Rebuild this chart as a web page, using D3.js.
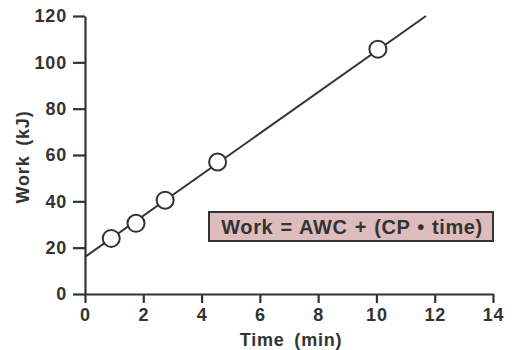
<!DOCTYPE html>
<html lang="en">
<head>
    <meta charset="UTF-8">
    <title>Work vs Time</title>
    <style>
        body { margin: 0; background: #fff; }
        text {
            font-family: "Liberation Sans", Arial, sans-serif;
            font-weight: bold;
            fill: #333;
        }
    </style>
    <script src="https://d3js.org/d3.v7.min.js"></script>
</head>
<body>
<svg></svg>
<script>
    // measured points
    const time = [0.9, 1.75, 2.75, 4.55, 10.05];
    const work = [24, 30.5, 40.5, 57, 105.7];
    // fitted line endpoints
    const fitTime = [0, 11.7];
    const fitWork = [16, 120];
    const xTicks = [0, 2, 4, 6, 8, 10, 12, 14];
    const yTicks = [0, 20, 40, 60, 80, 100, 120];
    const equation = "Work = AWC + (CP \u2022 time)";

    const width = 515, height = 350;
    const ink = "#333";
    const svg = d3.select("svg").attr("width", width).attr("height", height);

    const x = d3.scaleLinear().domain([0, 14]).range([85, 493]);
    const y = d3.scaleLinear().domain([0, 120]).range([294, 16]);

    // axes
    const xAxis = svg.append("g")
        .attr("transform", `translate(0,${y(0)})`)
        .call(d3.axisBottom(x).tickValues(xTicks).tickSize(9).tickPadding(5).tickSizeOuter(0));
    const yAxis = svg.append("g")
        .attr("transform", `translate(${x(0)},0)`)
        .call(d3.axisLeft(y).tickValues(yTicks).tickSize(12).tickPadding(6).tickSizeOuter(0));

    [xAxis, yAxis].forEach(a => {
        a.select(".domain").attr("stroke", ink).attr("stroke-width", 2.2);
        a.selectAll(".tick line").attr("stroke", ink).attr("stroke-width", 2.2);
        a.selectAll(".tick text")
            .attr("fill", ink)
            .style("font-size", "18px")
            .style("letter-spacing", "0.8px");
    });

    // fitted line
    const line = d3.line().x(d => x(d[0])).y(d => y(d[1]));
    svg.append("path")
        .datum(d3.zip(fitTime, fitWork))
        .attr("d", line)
        .attr("fill", "none")
        .attr("stroke", ink)
        .attr("stroke-width", 2);

    // points
    svg.append("g")
        .selectAll("circle")
        .data(d3.zip(time, work))
        .join("circle")
        .attr("cx", d => x(d[0]))
        .attr("cy", d => y(d[1]))
        .attr("r", 8.5)
        .attr("fill", "#fff")
        .attr("stroke", ink)
        .attr("stroke-width", 2);

    // equation box
    svg.append("rect")
        .attr("x", 209).attr("y", 212)
        .attr("width", 284).attr("height", 29)
        .attr("fill", "#dcbcbc")
        .attr("stroke", ink)
        .attr("stroke-width", 2);
    svg.append("text")
        .attr("x", 352).attr("y", 234)
        .attr("text-anchor", "middle")
        .style("font-size", "20px")
        .style("letter-spacing", "0.6px")
        .style("word-spacing", "1px")
        .text(equation);

    // axis titles
    svg.append("text")
        .attr("x", 291).attr("y", 346)
        .attr("text-anchor", "middle")
        .style("font-size", "18px")
        .style("letter-spacing", "0.8px")
        .style("word-spacing", "4px")
        .text("Time (min)");
    svg.append("text")
        .attr("transform", "translate(29,157) rotate(-90)")
        .attr("text-anchor", "middle")
        .style("font-size", "18px")
        .style("letter-spacing", "0.8px")
        .style("word-spacing", "4px")
        .text("Work (kJ)");
</script>
</body>
</html>
